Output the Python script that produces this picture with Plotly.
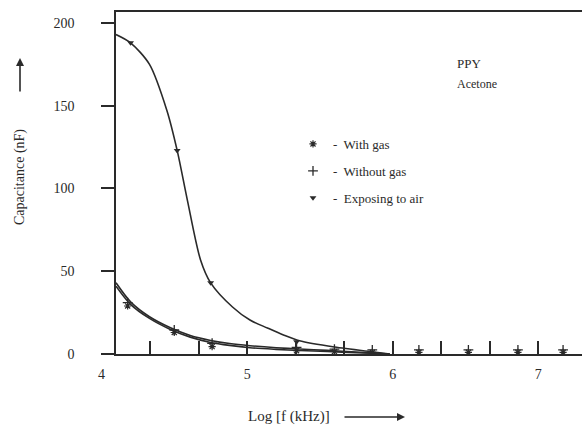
import plotly.graph_objects as go

# ---- data ----
# fitted curves
air_curve_x = [4.1, 4.2, 4.33, 4.45, 4.52, 4.59, 4.68, 4.75, 4.9, 5.02, 5.14, 5.25, 5.36, 5.6, 5.87, 5.98]
air_curve_y = [193, 188, 175, 147, 123, 93, 57, 43, 28.4, 20.5, 15.7, 11.5, 8, 4.2, 1.2, 0]

without_curve_x = [4.1, 4.2, 4.33, 4.47, 4.61, 4.75, 4.88, 5.02, 5.2, 5.36, 5.55, 5.75, 5.98]
without_curve_y = [43, 31.5, 22.5, 16, 11.2, 8.2, 6.3, 5.0, 3.8, 3.0, 2.2, 1.2, 0]

with_curve_x = [4.1, 4.2, 4.33, 4.47, 4.61, 4.75, 4.88, 5.02, 5.2, 5.36, 5.55, 5.75, 5.98]
with_curve_y = [41, 30, 21.5, 15, 10.2, 7.0, 5.2, 3.8, 2.8, 2.1, 1.5, 0.8, 0]

# measured points
air_pts_x = [4.2, 4.52, 4.75, 5.34]
air_pts_y = [188, 123, 43, 7.4]

gas_pts_x = [4.18, 4.5, 4.76, 5.34, 5.6, 5.86, 6.18, 6.52, 6.86, 7.17]
with_pts_y = [29, 13, 4.5, 2.0, 1.5, 1.0, 1.0, 1.0, 1.0, 1.0]
without_pts_y = [31, 14.5, 6.5, 4.0, 3.0, 2.5, 2.5, 2.5, 2.5, 2.5]

minor_ticks = [4 + k / 3 for k in range(1, 11)]
x_labels = [4, 5, 6, 7]
y_ticks = [0, 50, 100, 150, 200]

# ---- figure ----
W, H = 582, 431
ML, MR, MT, MB = 80, 0, 12, 77
INK = "#2a2a2a"
FONT = "Liberation Serif"


def px(xp):
    return (xp - ML) / (W - ML - MR)


def py(yp):
    return (H - MB - yp) / (H - MT - MB)


fig = go.Figure()

for cx, cy in [(air_curve_x, air_curve_y), (without_curve_x, without_curve_y),
               (with_curve_x, with_curve_y)]:
    fig.add_trace(go.Scatter(x=cx, y=cy, mode="lines",
                             line=dict(color=INK, width=1.6, shape="spline", smoothing=0.8),
                             showlegend=False, hoverinfo="skip"))

fig.add_trace(go.Scatter(x=gas_pts_x, y=with_pts_y, mode="markers", name="-  With gas",
                         marker=dict(symbol="asterisk-open", size=6, color=INK, line=dict(width=1.2, color=INK)),
                         legendgroup="a"))
fig.add_trace(go.Scatter(x=gas_pts_x, y=without_pts_y, mode="markers", name="-  Without gas",
                         marker=dict(symbol="cross-thin-open", size=7, color=INK, line=dict(width=1.3, color=INK)),
                         legendgroup="b"))
fig.add_trace(go.Scatter(x=air_pts_x, y=air_pts_y, mode="markers", name="-  Exposing to air",
                         marker=dict(symbol="triangle-down", size=6, color=INK),
                         legendgroup="c"))

# empty trace that carries the labelled bottom axis (wider domain than the frame)
fig.add_trace(go.Scatter(x=[], y=[], xaxis="x2", yaxis="y", showlegend=False, hoverinfo="skip"))

dom0 = px(116)
fig.update_layout(
    width=W, height=H,
    margin=dict(l=ML, r=MR, t=MT, b=MB),
    paper_bgcolor="white", plot_bgcolor="rgba(0,0,0,0)",
    font=dict(family=FONT, color=INK, size=14),
    xaxis=dict(domain=[dom0, 1], range=[4.1, 7.3], tickmode="array", tickvals=minor_ticks,
               ticks="inside", ticklen=13, tickwidth=1.5, tickcolor=INK,
               showticklabels=False, showline=True, linecolor=INK, linewidth=1.6,
               mirror=True, showgrid=False, zeroline=False, anchor="y"),
    xaxis2=dict(domain=[0, 1], range=[3.852, 7.3], anchor="y", side="bottom",
                tickmode="array", tickvals=x_labels, ticks="", showline=False,
                showgrid=False, zeroline=False, ticklabelstandoff=10,
                tickfont=dict(family=FONT, size=14, color=INK)),
    yaxis=dict(range=[0, 206.6], tickmode="array", tickvals=y_ticks, anchor="x",
               ticks="outside", ticklen=13, tickwidth=1.5, tickcolor=INK,
               showline=True, linecolor=INK, linewidth=1.6, showgrid=False, zeroline=False,
               ticklabelstandoff=24, tickfont=dict(family=FONT, size=14, color=INK)),
    legend=dict(x=px(293), y=py(129), xanchor="left", yanchor="top", bgcolor="rgba(0,0,0,0)",
                font=dict(family=FONT, size=13, color=INK), tracegroupgap=7, itemwidth=30),
    showlegend=True,
)

annotations = [
    dict(text="Capacitance (nF)", x=px(20), y=py(177), textangle=-90, font=dict(size=14)),
    dict(text="Log [f (kHz)]", x=px(289), y=py(417), font=dict(size=15)),
    dict(text="PPY", x=px(455), y=py(63), xanchor="left", font=dict(size=13)),
    dict(text="Acetone", x=px(455), y=py(84), xanchor="left", font=dict(size=12)),
    dict(text="", x=px(20), y=py(58), showarrow=True, ax=0, ay=35, arrowhead=2,
         arrowsize=1, arrowwidth=1.6, arrowcolor=INK),
    dict(text="", x=px(405), y=py(417), showarrow=True, ax=-62, ay=0, arrowhead=2,
         arrowsize=1, arrowwidth=1.6, arrowcolor=INK),
]
for a in annotations:
    a.setdefault("xref", "paper")
    a.setdefault("yref", "paper")
    a.setdefault("showarrow", False)
    a.setdefault("xanchor", "center")
    a.setdefault("yanchor", "middle")
    a.setdefault("font", {})
    a["font"].setdefault("family", FONT)
    a["font"].setdefault("color", INK)
fig.update_layout(annotations=annotations)

fig.write_html("out.html")
